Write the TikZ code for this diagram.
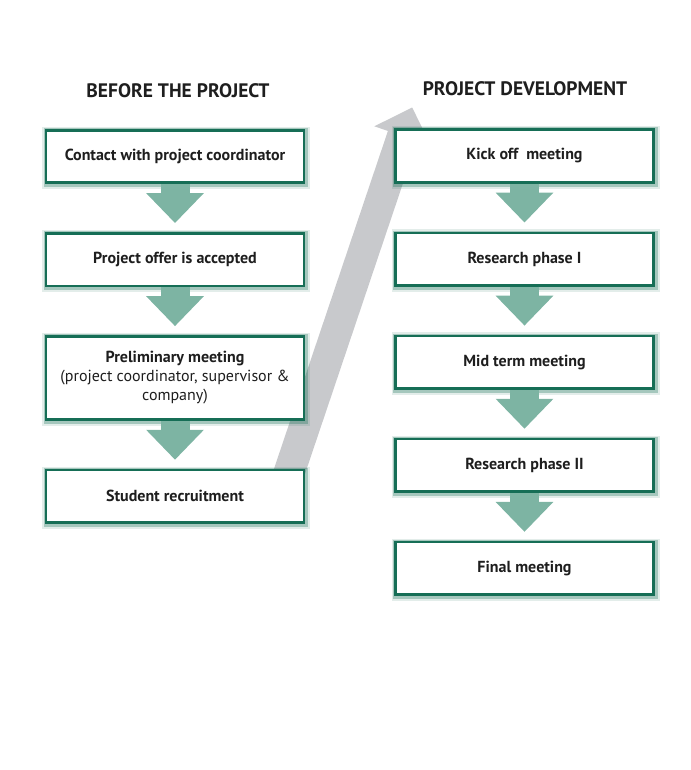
\documentclass[tikz,border=0pt]{standalone}
\usepackage{fontspec}
\setmainfont{PT Sans}
\usetikzlibrary{positioning,arrows.meta,backgrounds}
\definecolor{boxline}{RGB}{22,110,86}
\definecolor{flowgreen}{RGB}{125,180,163}
\definecolor{bandgray}{RGB}{200,201,204}
\definecolor{textdark}{RGB}{30,30,30}
\begin{document}
\begin{tikzpicture}[
x=1pt, y=1pt,
heading/.style={font=\bfseries\fontsize{19.5}{22}\selectfont, text=textdark},
stepbox/.style={rectangle, fill=white, draw=boxline, line width=2.6pt,
    minimum width=258pt, minimum height=52.5pt, align=center, text=textdark,
    font=\bfseries\fontsize{16}{19}\selectfont,
    preaction={draw=boxline, line width=10pt, opacity=0.12,
        transform canvas={xshift=1pt, yshift=-1.5pt}},
    preaction={draw=boxline, line width=6.5pt, opacity=0.3,
        transform canvas={xshift=0.8pt, yshift=-1pt}}},
flowarrow/.style={draw=flowgreen, line width=29pt, -{Triangle[width=56pt, length=30pt]}},
bandarrow/.style={draw=bandgray, line width=31pt, -{Triangle[width=58pt, length=30pt]}},
node distance=48pt,
]
\useasboundingbox (0,0) rectangle (690,-770);
\node[heading] (before) at (178,-91) {BEFORE THE PROJECT};
\node[heading] (develop) at (525,-89) {PROJECT DEVELOPMENT};

\node[stepbox] (contact) at (175,-156.5) {Contact with project coordinator};
\node[stepbox, below=of contact] (offer) {Project offer is accepted};
\node[stepbox, below=of offer, minimum height=83pt] (prelim)
    {Preliminary meeting\\{\mdseries (project coordinator, supervisor \&}\\{\mdseries company)}};
\node[stepbox, below=of prelim] (recruit) {Student recruitment};

\node[stepbox] (kickoff) at (524.5,-156) {Kick off~ meeting};
\node[stepbox, below=of kickoff] (phaseone) {Research phase I};
\node[stepbox, below=of phaseone] (midterm) {Mid term meeting};
\node[stepbox, below=of midterm] (phasetwo) {Research phase II};
\node[stepbox, below=of phasetwo] (final) {Final meeting};

\draw[flowarrow] (contact.south) -- ([yshift=9pt]offer.north);
\draw[flowarrow] (offer.south) -- ([yshift=9pt]prelim.north);
\draw[flowarrow] (prelim.south) -- ([yshift=9pt]recruit.north);
\draw[flowarrow] (kickoff.south) -- ([yshift=9pt]phaseone.north);
\draw[flowarrow] (phaseone.south) -- ([yshift=9pt]midterm.north);
\draw[flowarrow] (midterm.south) -- ([yshift=9pt]phasetwo.north);
\draw[flowarrow] (phasetwo.south) -- ([yshift=9pt]final.north);

\begin{scope}[on background layer]
\draw[bandarrow] ([xshift=-21pt,yshift=-18pt]recruit.north east) -- ([xshift=18pt,yshift=21pt]kickoff.north west);
\end{scope}
\end{tikzpicture}
\end{document}
